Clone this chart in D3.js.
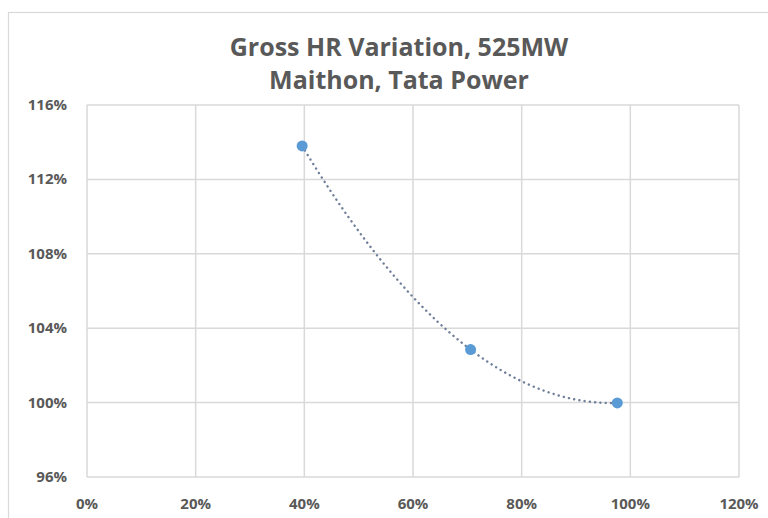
<!DOCTYPE html>
<html>
<head>
<meta charset="utf-8">
<script src="https://cdn.jsdelivr.net/npm/d3@7/dist/d3.min.js"></script>
<style>
  body { margin: 0; background: #fff; }
  svg { display: block; font-family: "Liberation Sans Narrow", "Open Sans", sans-serif; }
  .grid line { stroke: #d9d9d9; stroke-width: 1.5; }
  .tick-label { fill: #595959; font-weight: bold; font-size: 15px; }
  .title { fill: #595959; font-size: 25px; font-weight: bold; }
</style>
</head>
<body>
<svg id="chart" width="768" height="518"></svg>
<script>
  const width = 768, height = 518;
  const svg = d3.select("#chart");

  // data
  const loadPct = [39.6, 70.6, 97.6];
  const grossHR = [113.8, 102.85, 99.98];
  const xTicks = [0, 20, 40, 60, 80, 100, 120];
  const yTicks = [96, 100, 104, 108, 112, 116];
  const titleLines = ["Gross HR Variation, 525MW", "Maithon, Tata Power"];

  const margin = { left: 87, right: 29, top: 105, bottom: 41 };

  const x = d3.scaleLinear().domain([0, 120]).range([margin.left, width - margin.right]);
  const y = d3.scaleLinear().domain([96, 116]).range([height - margin.bottom, margin.top]);

  // chart border
  svg.append("rect")
    .attr("x", 8.5).attr("y", 12.5)
    .attr("width", 800).attr("height", 600)
    .attr("fill", "none")
    .attr("stroke", "#d9d9d9")
    .attr("stroke-width", 1.2);

  // titles
  svg.selectAll(".title")
    .data(titleLines)
    .join("text")
    .attr("class", "title")
    .attr("x", 399)
    .attr("y", (d, i) => 56 + i * 33)
    .attr("text-anchor", "middle")
    .text(d => d);

  // grid
  const grid = svg.append("g").attr("class", "grid");
  grid.selectAll(".vx")
    .data(xTicks)
    .join("line")
    .attr("x1", d => x(d)).attr("x2", d => x(d))
    .attr("y1", y(116)).attr("y2", y(96));
  grid.selectAll(".hy")
    .data(yTicks)
    .join("line")
    .attr("x1", x(0)).attr("x2", x(120))
    .attr("y1", d => y(d)).attr("y2", d => y(d));

  // tick labels
  svg.selectAll(".ylab")
    .data(yTicks)
    .join("text")
    .attr("class", "tick-label")
    .attr("x", x(0) - 20)
    .attr("y", d => y(d) + 5)
    .attr("text-anchor", "end")
    .text(d => d + "%");

  svg.selectAll(".xlab")
    .data(xTicks)
    .join("text")
    .attr("class", "tick-label")
    .attr("x", d => x(d))
    .attr("y", height - margin.bottom + 32)
    .attr("text-anchor", "middle")
    .text(d => d + "%");

  // 2nd order polynomial trendline through the points (Lagrange form)
  function poly(t) {
    let s = 0;
    for (let i = 0; i < 3; i++) {
      let term = grossHR[i];
      for (let j = 0; j < 3; j++) {
        if (j !== i) term *= (t - loadPct[j]) / (loadPct[i] - loadPct[j]);
      }
      s += term;
    }
    return s;
  }
  const trend = d3.range(loadPct[0], loadPct[2] + 0.01, 0.5).map(t => [t, poly(t)]);

  svg.append("path")
    .datum(trend)
    .attr("fill", "none")
    .attr("stroke", "#6f7f99")
    .attr("stroke-width", 2.4)
    .attr("stroke-linecap", "round")
    .attr("stroke-dasharray", "0.1 5.2")
    .attr("d", d3.line().x(d => x(d[0])).y(d => y(d[1])));

  // points
  svg.selectAll(".pt")
    .data(loadPct.map((d, i) => [d, grossHR[i]]))
    .join("circle")
    .attr("cx", d => x(d[0]))
    .attr("cy", d => y(d[1]))
    .attr("r", 5.5)
    .attr("fill", "#5b9bd5");
</script>
</body>
</html>
